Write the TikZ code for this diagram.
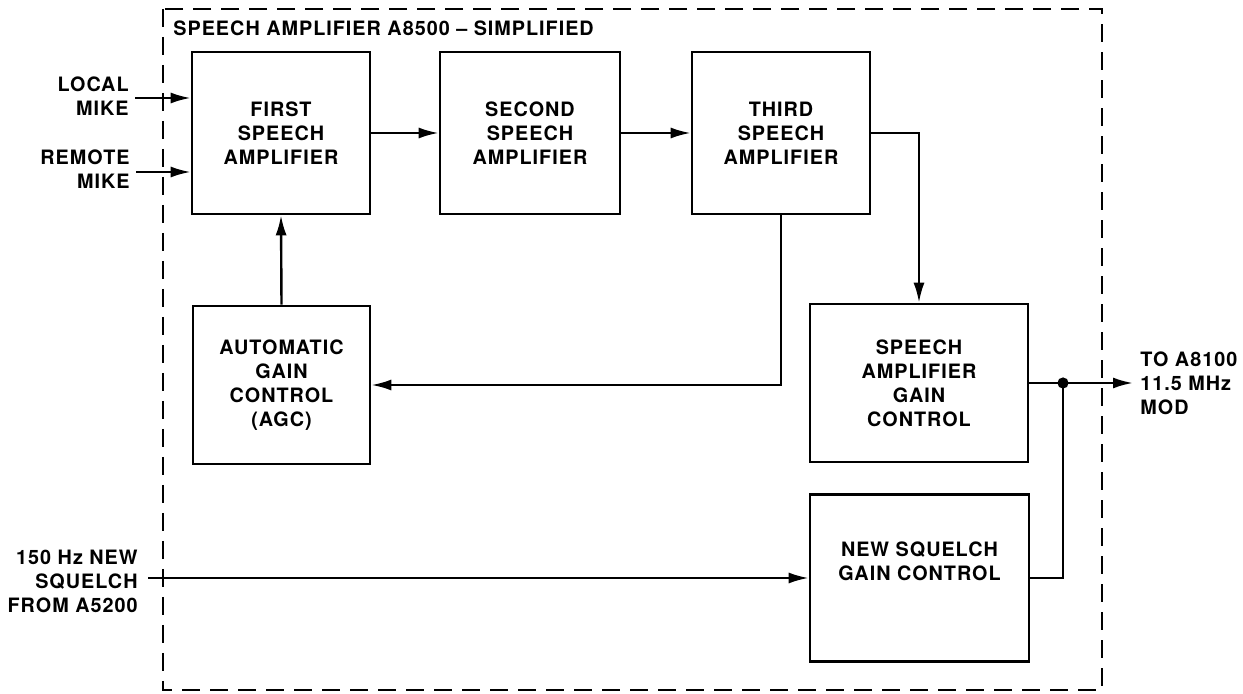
\documentclass[tikz,border=0pt]{standalone}
\usepackage{fontspec}
\setmainfont{TeX Gyre Heros}[LetterSpace=5]
\usetikzlibrary{arrows.meta}
\begin{document}
\begin{tikzpicture}[x=0.5pt,y=-0.5pt,
  font=\fontsize{9.9}{12}\selectfont\bfseries,
  blk/.style={draw,line width=1.3pt,align=center,inner sep=0pt},
  lbl/.style={align=right,inner sep=0pt},
  conn/.style={line width=1.2pt},
  arr/.style={line width=1.2pt,-{Latex[length=10pt,width=5.5pt]}},
  frame/.style={line width=1.2pt,dash pattern=on 9pt off 5pt}]
\useasboundingbox (0,0) rectangle (1243,694);
\draw[frame] (163,9) rectangle (1102,690);
\node[anchor=west,inner sep=0pt] (title) at (173,28) {SPEECH AMPLIFIER A8500 -- SIMPLIFIED};

\node[blk,minimum width=89pt,minimum height=81pt] (first) at (281,133) {FIRST\\SPEECH\\AMPLIFIER};
\node[blk,minimum width=90pt,minimum height=81pt] (second) at (530,133) {SECOND\\SPEECH\\AMPLIFIER};
\node[blk,minimum width=89pt,minimum height=81pt] (third) at (781,133) {THIRD\\SPEECH\\AMPLIFIER};
\node[blk,minimum width=88.5pt,minimum height=79pt] (agc) at (281.5,385) {AUTOMATIC\\GAIN\\CONTROL\\(AGC)};
\node[blk,minimum width=109pt,minimum height=79pt] (sagc) at (919,383) {SPEECH\\AMPLIFIER\\GAIN\\CONTROL};
\node[blk,minimum width=109.5pt,minimum height=83.5pt] (nsgc) at (919.5,578) {NEW SQUELCH\\GAIN CONTROL\\[5pt]\mbox{}};

\node[lbl,anchor=east] (lmlbl) at (129,96) {LOCAL\\MIKE};
\node[lbl,anchor=east] (rmlbl) at (130,169) {REMOTE\\MIKE};
\node[lbl,anchor=east] (sqlbl) at (138,581) {150 Hz NEW\\SQUELCH\\FROM A5200};
\node[align=left,anchor=west,inner sep=0pt] (outlbl) at (1140,383) {TO A8100\\11.5 MHz\\MOD};

\coordinate (lm) at (135,98);
\coordinate (rm) at (136,172);
\coordinate (sq) at (148,578);
\coordinate (jn) at (1063,383);
\coordinate (out) at (1133,383);

\draw[arr] (lm) -- (first.west |- lm);
\draw[arr] (rm) -- (first.west |- rm);
\draw[arr] (first.east) -- (second.west);
\draw[arr] (second.east) -- (third.west);
\draw[arr] (third.east) -| (sagc.north);
\draw[arr] (third.south) |- (agc.east);
\draw[arr] (agc.north) -- (first.south);
\draw[arr] (sq) -- (nsgc.west);
\draw[conn] (sagc.east) -- (jn);
\draw[arr] (jn) -- (out);
\draw[conn] (nsgc.east) -| (jn);
\fill (jn) circle (2.8pt);
\end{tikzpicture}
\end{document}
